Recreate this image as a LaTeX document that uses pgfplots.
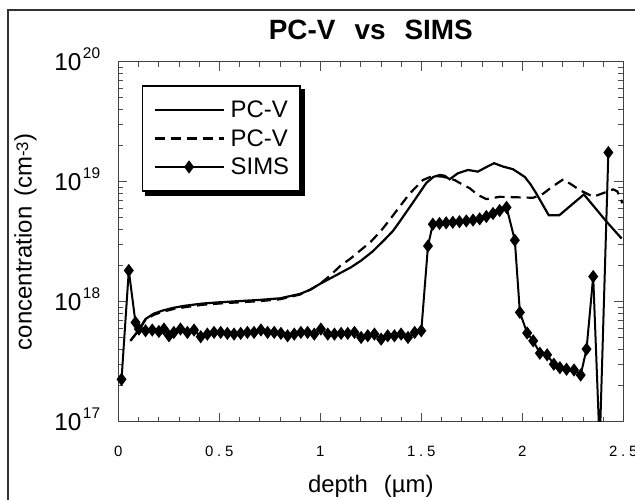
\documentclass[border=0pt]{standalone}
\usepackage{fontspec}
\setmainfont{Liberation Sans}
% fixed-size families (scaled from the 10pt base)
\newfontfamily\tickfont[Scale=1.5, LetterSpace=25]{Liberation Sans}
\newfontfamily\labfont[Scale=2.4]{Liberation Sans}
\newfontfamily\titlefont[Scale=2.8]{Liberation Sans}
\newfontfamily\decfont[Scale=2.45]{Liberation Sans}
\newfontfamily\supfont[Scale=1.55]{Liberation Sans}
\usepackage{pgfplots}
\pgfplotsset{compat=1.18}

% 10^n tick label in the text font
\newcommand{\dec}[1]{{\decfont 10}\hspace{1.5bp}\raisebox{12.5bp}{\supfont #1}}

\begin{document}
\begin{tikzpicture}
\path[use as bounding box] (0,0) rectangle (635bp,500bp);
\begin{axis}[
    at={(118.3bp,78.3bp)}, anchor=south west,
    scale only axis, width=505bp, height=360bp,
    xmin=0, xmax=2.5, ymin=17, ymax=20,
    xtick={0,0.5,1,1.5,2,2.5},
    xticklabels={0,0.5,1,1.5,2,2.5},
    minor x tick num=4,
    ytick={17,18,19,20},
    yticklabels={\dec{17},\dec{18},\dec{19},\dec{20}},
    minor ytick={17.30103,17.47712,17.60206,17.69897,17.77815,17.84510,17.90309,17.95424,
                 18.30103,18.47712,18.60206,18.69897,18.77815,18.84510,18.90309,18.95424,
                 19.30103,19.47712,19.60206,19.69897,19.77815,19.84510,19.90309,19.95424},
    tick align=inside,
    major tick length=9bp, minor tick length=5bp,
    every tick/.style={black!70, line width=0.8bp},
    axis line style={black!75, line width=1bp},
    xticklabel style={font=\tickfont, anchor=base, yshift=-35.3bp},
    yticklabel style={anchor=base east, inner sep=0bp, xshift=-18bp, yshift=-9bp},
    title={PC-V\hspace{19bp}vs\hspace{19bp}SIMS},
    title style={at={(0.5,1.0464)}, anchor=base, font=\titlefont\bfseries},
    xlabel={depth\hspace{16bp}(µm)},
    xlabel style={at={(0.5,-0.198)}, anchor=base, font=\labfont},
    ylabel={concentration\hspace{10bp}(cm\textsuperscript{-3})},
    ylabel style={at={(-0.1715,0.5)}, anchor=base, font=\labfont},
    legend image code/.code={\draw[mark repeat=2,mark phase=2] plot coordinates {(0bp,0bp)(34.5bp,0bp)(69bp,0bp)};},
    legend style={
        name=leg,
        at={(0.0463,0.935)}, anchor=north west,
        draw=black, line width=1.6bp, fill=white,
        font=\labfont,
        inner xsep=11bp, inner ysep=15bp,
        row sep=10.3bp, column sep=6bp,
        nodes={inner sep=0bp},
        cells={anchor=west},
    },
]
% PC-V (solid)
\addplot[black, line width=2.2bp] coordinates {
    (0.06,17.674) (0.10,17.76) (0.135,17.856) (0.175,17.90) (0.217,17.925)
    (0.275,17.95) (0.333,17.967) (0.42,17.985) (0.5,17.995) (0.6,18.005)
    (0.7,18.015) (0.8,18.028) (0.9,18.065) (0.95,18.10) (1.0,18.15)
    (1.05,18.195) (1.1,18.24) (1.15,18.285) (1.2,18.34) (1.26,18.42)
    (1.32,18.52) (1.36,18.59) (1.392,18.665) (1.458,18.825) (1.525,18.99)
    (1.56,19.04) (1.591,19.056) (1.615,19.05) (1.64,19.02) (1.681,19.07)
    (1.731,19.098) (1.78,19.084) (1.82,19.12) (1.86,19.154) (1.905,19.126)
    (1.954,19.104) (2.012,19.04) (2.04,18.98) (2.07,18.90) (2.131,18.72)
    (2.183,18.72) (2.305,18.894) (2.418,18.665) (2.492,18.526)
};
\addlegendentry{PC-V\hspace{5bp}}
% PC-V (dashed)
\addplot[black, line width=2.2bp, dash pattern=on 10bp off 6bp] coordinates {
    (0.06,17.674) (0.10,17.76) (0.135,17.85) (0.175,17.89) (0.217,17.915)
    (0.275,17.94) (0.333,17.955) (0.42,17.975) (0.5,17.985) (0.6,17.995)
    (0.7,18.005) (0.8,18.02) (0.9,18.06) (0.95,18.10) (1.0,18.15)
    (1.05,18.22) (1.1,18.30) (1.15,18.36) (1.2,18.43) (1.25,18.50)
    (1.3,18.59) (1.338,18.67) (1.392,18.79) (1.442,18.90) (1.508,19.014)
    (1.557,19.048) (1.607,19.042) (1.665,19.014) (1.70,18.98) (1.74,18.945)
    (1.78,18.89) (1.822,18.855) (1.888,18.874) (2.054,18.866) (2.103,18.90)
    (2.15,18.96) (2.203,19.02) (2.24,18.98) (2.285,18.93) (2.351,18.874)
    (2.45,18.936) (2.47,18.92) (2.484,18.874) (2.495,18.82)
};
\addlegendentry{PC-V\hspace{5bp}}
% SIMS
\addplot[black, line width=2bp, mark=diamond*, mark size=5bp, unbounded coords=jump] coordinates {
    (0.016,17.353) (0.052,18.26) (0.085,17.827) (0.102,17.772) (0.135,17.758)
    (0.168,17.764) (0.201,17.752) (0.226,17.772) (0.251,17.716) (0.275,17.744)
    (0.308,17.772) (0.342,17.744) (0.375,17.764) (0.408,17.708) (0.441,17.730)
    (0.474,17.744) (0.507,17.744) (0.540,17.736) (0.573,17.730) (0.606,17.736)
    (0.639,17.744) (0.672,17.744) (0.706,17.764) (0.739,17.744) (0.772,17.744)
    (0.805,17.736) (0.838,17.716) (0.871,17.730) (0.904,17.744) (0.937,17.744)
    (0.970,17.730) (1.003,17.772) (1.037,17.730) (1.070,17.730) (1.103,17.736)
    (1.136,17.736) (1.169,17.744) (1.202,17.702) (1.235,17.716) (1.268,17.730)
    (1.301,17.688) (1.334,17.716) (1.367,17.716) (1.400,17.730) (1.434,17.702)
    (1.467,17.744) (1.500,17.758) (1.533,18.464) (1.557,18.646) (1.590,18.652)
    (1.623,18.657) (1.656,18.662) (1.689,18.667) (1.723,18.673) (1.756,18.680)
    (1.789,18.690) (1.822,18.710) (1.855,18.735) (1.888,18.760) (1.922,18.786)
    (1.963,18.512) (1.988,17.911) (2.024,17.739) (2.054,17.674) (2.087,17.571)
    (2.123,17.557) (2.156,17.479) (2.186,17.450) (2.219,17.437) (2.256,17.431)
    (2.289,17.389) (2.318,17.605) (2.351,18.210) (2.383,nan) (2.426,19.243)
};
\addlegendentry{SIMS}
% SIMS dip below the axis
\addplot[black, line width=2bp, forget plot] coordinates {
    (2.351,18.210) (2.383,16.8) (2.426,19.243)
};
\end{axis}
% solid shadow of the legend box (right and bottom strips)
\fill[black] ([yshift=-3.5bp]leg.north east) rectangle ([xshift=4.3bp,yshift=-4.3bp]leg.south east);
\fill[black] ([xshift=3.5bp]leg.south west) rectangle ([xshift=4.3bp,yshift=-4.3bp]leg.south east);
\draw[line width=2bp, black!80] (8.3bp,0bp) -- (8.3bp,490bp) -- (640bp,490bp);
\end{tikzpicture}
\end{document}
